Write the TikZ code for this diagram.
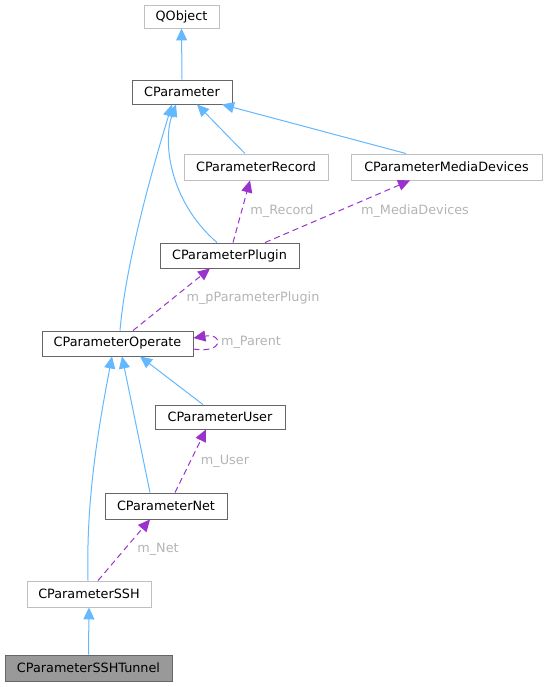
\documentclass[tikz,border=0pt]{standalone}
\usepackage{fontspec}
\setmainfont{DejaVu Sans}
\usetikzlibrary{arrows.meta,calc}
\definecolor{inhblue}{HTML}{63B8FF}
\definecolor{usepurple}{HTML}{9A32CD}
\definecolor{lightborder}{HTML}{BFBFBF}
\definecolor{darkborder}{HTML}{666666}
\definecolor{labelgray}{HTML}{B4B4B4}
\definecolor{tunnelfill}{HTML}{999999}
\tikzset{
  cls/.style={draw=darkborder, fill=white, line width=0.9pt, inner sep=0pt, font=\fontsize{12.8}{15}\selectfont, text=black},
  clslight/.style={cls, draw=lightborder},
  clsmain/.style={cls, fill=tunnelfill},
  inh/.style={draw=inhblue, line width=1pt, -{Triangle[length=12pt,width=11pt]}},
  usage/.style={draw=usepurple, line width=1pt, dash pattern=on 6pt off 4pt, -{Triangle[length=12pt,width=11pt]}},
  lbl/.style={text=labelgray, inner sep=0pt, font=\fontsize{12.8}{15}\selectfont},
}
\begin{document}
\begin{tikzpicture}[x=1pt,y=-1pt]
\useasboundingbox (0,0) rectangle (548,687);
\node[clslight, minimum width=75pt, minimum height=23pt] (qobj) at (181.5,16.5) {QObject};
\node[cls, minimum width=100pt, minimum height=24pt] (par) at (182,92) {CParameter};
\node[clslight, minimum width=144pt, minimum height=26pt] (rec) at (256,167) {CParameterRecord};
\node[clslight, minimum width=191pt, minimum height=26pt] (med) at (446.5,167) {CParameterMediaDevices};
\node[cls, minimum width=139pt, minimum height=25pt] (plug) at (229.5,255.5) {CParameterPlugin};
\node[cls, minimum width=151pt, minimum height=25pt] (op) at (117.5,343.5) {CParameterOperate};
\node[cls, minimum width=130pt, minimum height=24pt] (user) at (220,417) {CParameterUser};
\node[cls, minimum width=122pt, minimum height=26pt] (net) at (166,506) {CParameterNet};
\node[clslight, minimum width=124pt, minimum height=26pt] (ssh) at (89,594) {CParameterSSH};
\node[clsmain, minimum width=167pt, minimum height=26pt] (tun) at (88.5,668) {CParameterSSHTunnel};

% inheritance
\draw[inh] (par.north) -- (qobj.south);
\draw[inh] ($(op.north)+(2.5,0)$) .. controls (126,260) and (155,160) .. ($(par.south)+(-10,0)$);
\draw[inh] ($(rec.north)+(-11,0)$) -- ($(par.south)+(15,0)$);
\draw[inh] ($(med.north)+(-40.5,0)$) -- ($(par.south)+(40,0)$);
\draw[inh] ($(plug.north)+(-12.5,0)$) .. controls (168,200) and (163,140) .. ($(par.south)+(-6,0)$);
\draw[inh] ($(user.north)+(-17,0)$) -- ($(op.south)+(22.5,0)$);
\draw[inh] ($(net.north)+(-16,0)$) -- ($(op.south)+(4.5,0)$);
\draw[inh] ($(ssh.north)+(-1,0)$) .. controls (86,500) and (98,430) .. ($(op.south)+(-5.5,0)$);
\draw[inh] (tun.north) -- (ssh.south);

% usage
\draw[usage] ($(plug.north)+(3.5,0)$) -- ($(rec.south)+(-6,0)$);
\node[lbl] (lrec) at (282,211) {m\_Record};
\draw[usage] ($(plug.north)+(35.5,0)$) -- ($(med.south)+(-36.5,0)$);
\node[lbl] (lmed) at (415,211) {m\_MediaDevices};
\draw[usage] ($(op.north)+(15.5,0)$) -- ($(plug.south)+(-19.5,0)$);
\node[lbl] (lplug) at (253,298) {m\_pParameterPlugin};
\draw[usage] ($(op.east)+(0,5.5)$) .. controls (224,354) and (224,333) .. ($(op.east)+(0,-5.5)$);
\node[lbl] (lpar) at (251,342) {m\_Parent};
\draw[usage] ($(net.north)+(9,0)$) -- ($(user.south)+(-14,0)$);
\node[lbl] (luser) at (225,461) {m\_User};
\draw[usage] ($(ssh.north)+(9,0)$) -- ($(net.south)+(-16,0)$);
\node[lbl] (lnet) at (158,549) {m\_Net};
\end{tikzpicture}
\end{document}
